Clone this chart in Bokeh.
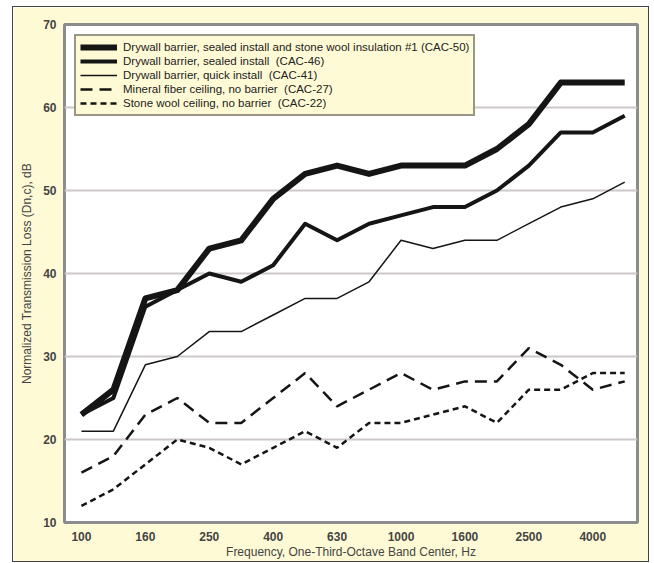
from bokeh.plotting import figure
from bokeh.models import Range1d, FixedTicker, Legend, LegendItem
from bokeh.embed import file_html
from bokeh.resources import INLINE

freqs = ["100", "125", "160", "200", "250", "315", "400", "500", "630", "800",
         "1000", "1250", "1600", "2000", "2500", "3150", "4000", "5000"]
cac50 = [23, 26, 37, 38, 43, 44, 49, 52, 53, 52, 53, 53, 53, 55, 58, 63, 63, 63]
cac46 = [23, 25, 36, 38, 40, 39, 41, 46, 44, 46, 47, 48, 48, 50, 53, 57, 57, 59]
cac41 = [21, 21, 29, 30, 33, 33, 35, 37, 37, 39, 44, 43, 44, 44, 46, 48, 49, 51]
cac27 = [16, 18, 23, 25, 22, 22, 25, 28, 24, 26, 28, 26, 27, 27, 31, 29, 26, 27]
cac22 = [12, 14, 17, 20, 19, 17, 19, 21, 19, 22, 22, 23, 24, 22, 26, 26, 28, 28]
labels = [
    "Drywall barrier, sealed install and stone wool insulation #1 (CAC-50)",
    "Drywall barrier, sealed install  (CAC-46)",
    "Drywall barrier, quick install  (CAC-41)",
    "Mineral fiber ceiling, no barrier  (CAC-27)",
    "Stone wool ceiling, no barrier  (CAC-22)",
]
y_ticks = [10, 20, 30, 40, 50, 60, 70]

CREAM = "#fffad6"
x = list(range(len(freqs)))

p = figure(width=635, height=554, output_backend="svg", toolbar_location=None,
           x_range=Range1d(-0.53, 17.4), y_range=Range1d(10, 70),
           min_border_left=51, min_border_right=11, min_border_top=17,
           min_border_bottom=39)
p.margin = (7, 0, 0, 13)
p.styles = {"outline": "1px solid #444"}
p.background_fill_color = "white"
p.border_fill_color = CREAM
p.outline_line_color = "#8c8c8c"
p.outline_line_width = 3

p.xgrid.visible = False
p.ygrid.grid_line_color = "#cdc7c7"
p.ygrid.grid_line_width = 2

p.yaxis.ticker = FixedTicker(ticks=y_ticks)
p.xaxis.ticker = FixedTicker(ticks=x[::2])
p.xaxis.major_label_overrides = {i: freqs[i] for i in x[::2]}
for ax in (p.xaxis, p.yaxis):
    ax.axis_line_color = None
    ax.major_tick_line_color = None
    ax.minor_tick_line_color = None
    ax.major_label_text_font = "Liberation Sans"
    ax.major_label_text_font_size = "12px"
    ax.major_label_text_font_style = "bold"
    ax.major_label_text_color = "#444444"
    ax.axis_label_text_font = "Liberation Sans"
    ax.axis_label_text_font_size = "12px"
    ax.axis_label_text_font_style = "normal"
    ax.axis_label_text_color = "#444444"
p.yaxis.major_label_standoff = 2
p.yaxis.axis_label_standoff = 6
p.xaxis.major_label_standoff = 3
p.xaxis.axis_label_standoff = 1
p.xaxis.axis_label = "Frequency, One-Third-Octave Band Center, Hz"
p.yaxis.axis_label = "Normalized Transmission Loss (Dn,c), dB"

ink = "#151515"
r1 = p.line(x, cac50, line_width=6, line_color=ink, line_join="round")
r2 = p.line(x, cac46, line_width=4, line_color=ink, line_join="round")
r3 = p.line(x, cac41, line_width=1.5, line_color=ink, line_join="round")
r4 = p.line(x, cac27, line_width=2.5, line_color=ink, line_dash="12 7")
r5 = p.line(x, cac22, line_width=2.5, line_color=ink, line_dash="6 4")

legend = Legend(items=[LegendItem(label=l, renderers=[r]) for l, r in
                       zip(labels, [r1, r2, r3, r4, r5])],
                location="top_left")
legend.background_fill_color = CREAM
legend.background_fill_alpha = 1
legend.border_line_color = "#333333"
legend.border_line_width = 2
legend.padding = 4
legend.margin = 10
legend.spacing = 0
legend.glyph_width = 37
legend.glyph_height = 14
legend.label_height = 14
legend.label_standoff = 6
legend.label_text_font = "Liberation Sans"
legend.label_text_font_size = "11.5px"
legend.label_text_color = "#222222"
legend.label_text_baseline = "middle"
p.add_layout(legend, "center")

open("out.html", "w").write(file_html(p, INLINE))
